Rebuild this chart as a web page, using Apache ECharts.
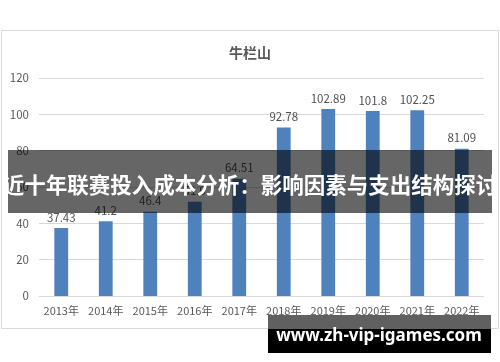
<!DOCTYPE html>
<html><head><meta charset="utf-8">
<script src="https://cdn.jsdelivr.net/npm/echarts@6/dist/echarts.min.js"></script>
<style>html,body{margin:0;padding:0;background:#fff}#c{width:500px;height:362px}</style>
</head><body><div id="c"></div>
<script>
const title = '牛栏山';
const categories = ['2013年','2014年','2015年','2016年','2017年','2018年','2019年','2020年','2021年','2022年'];
const values = [37.43, 41.2, 46.4, 51.9, 64.51, 92.78, 102.89, 101.8, 102.25, 81.09];
const yTicks = [0, 20, 40, 60, 80, 100, 120];
const bannerText = '近十年联赛投入成本分析：影响因素与支出结构探讨';
const watermark = 'www.zh-vip-igames.com';

const font = '"Noto Sans CJK SC", "Noto Sans", sans-serif';
const chart = echarts.init(document.getElementById('c'), null, {renderer:'canvas'});
chart.setOption({
  animation: false,
  backgroundColor: '#fff',
  title: {text: title, left: 'center', top: 41, textStyle: {fontFamily: font, fontSize: 14, fontWeight: 'bold', color: '#595959'}},
  grid: {left: 39, right: 16, top: 78, bottom: 66},
  xAxis: {type: 'category', data: categories,
    axisLine: {lineStyle: {color: '#d9d9d9'}}, axisTick: {show: false},
    axisLabel: {fontFamily: font, fontSize: 11, color: '#595959', margin: 9, interval: 0}},
  yAxis: {type: 'value', min: yTicks[0], max: yTicks[yTicks.length-1], interval: 20,
    axisLine: {show: false}, axisTick: {show: false},
    splitLine: {lineStyle: {color: '#d9d9d9'}},
    axisLabel: {fontFamily: font, fontSize: 11.5, color: '#595959', margin: 10}},
  series: [{type: 'bar', data: values, barWidth: '31%',
    itemStyle: {color: '#4f81bd'},
    label: {show: true, position: 'top', distance: 5, fontFamily: font, fontSize: 11.5, color: '#505050'}}],
  graphic: [
    {type: 'rect', z: -1, shape: {x: 1.5, y: 30.5, width: 497, height: 298}, style: {fill: 'none', stroke: '#d9d9d9', lineWidth: 1}},
    {type: 'rect', z: 100, shape: {x: 8, y: 150, width: 484, height: 63}, style: {fill: 'rgba(0,0,0,0.6)'}},
    {type: 'text', z: 101, x: 250, y: 185, style: {text: bannerText, fill: '#fff', fontFamily: font, fontSize: 21.5, fontWeight: 'bold', textAlign: 'center', textVerticalAlign: 'middle'}},
    {type: 'rect', z: 100, shape: {x: 268, y: 315, width: 223, height: 14}, style: {fill: '#606060'}},
    {type: 'rect', z: 100, shape: {x: 268, y: 329, width: 223, height: 24}, style: {fill: '#000'}},
    {type: 'text', z: 101, x: 379, y: 336, style: {text: watermark, fill: '#fff', fontFamily: '"Noto Sans", sans-serif', fontSize: 17, fontWeight: 'bold', textAlign: 'center', textVerticalAlign: 'middle'}}
  ]
});
</script></body></html>
